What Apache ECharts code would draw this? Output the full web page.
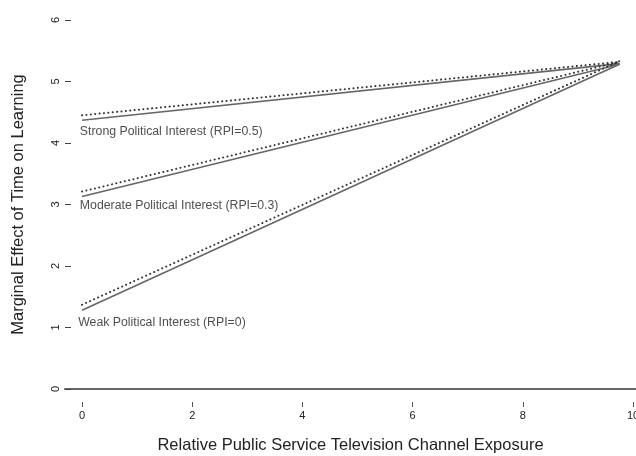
<!DOCTYPE html>
<html><head><meta charset="utf-8">
<script src="https://cdn.jsdelivr.net/npm/echarts@6/dist/echarts.min.js"></script>
<style>html,body{margin:0;padding:0;background:#fff}#c{width:636px;height:456px}</style>
</head><body><div id="c"></div>
<script>
var exposure = [0, 9.75];
var strongSolid = [4.37, 5.29];
var strongDotted = [4.45, 5.32];
var moderateSolid = [3.13, 5.28];
var moderateDotted = [3.21, 5.32];
var weakSolid = [1.28, 5.28];
var weakDotted = [1.37, 5.33];
var xTicks = [0, 2, 4, 6, 8, 10];
var yTicks = [0, 1, 2, 3, 4, 5, 6];
var labelTexts = ['Strong Political Interest (RPI=0.5)', 'Moderate Political Interest (RPI=0.3)', 'Weak Political Interest (RPI=0)'];
var labelPos = [[-0.04, 4.19], [-0.04, 2.98], [-0.07, 1.08]];

function pts(ys){ return exposure.map(function(x,i){ return [x, ys[i]]; }); }
function solid(ys){ return {type:'line', xAxisIndex:0, yAxisIndex:0, data:pts(ys), symbol:'none', silent:true,
  lineStyle:{color:'#666', width:1.6, type:'solid'}}; }
function dotted(ys){ return {type:'line', xAxisIndex:0, yAxisIndex:0, data:pts(ys), symbol:'none', silent:true,
  lineStyle:{color:'#333', width:2, type:[0.1,4.3], cap:'round'}}; }

var chart = echarts.init(document.getElementById('c'), null, {renderer:'canvas'});
chart.setOption({
  animation:false,
  textStyle:{fontFamily:'Liberation Sans, Arial, sans-serif'},
  grid:[
    {left:65, right:0, top:20, bottom:67, containLabel:false, outerBoundsMode:'none'},
    {left:82, right:3, top:20, bottom:67, containLabel:false, outerBoundsMode:'none'}
  ],
  xAxis:[{
    gridIndex:0, type:'value', min:-0.309, max:10.05, position:'bottom',
    axisLine:{show:true, onZero:false, lineStyle:{color:'#666', width:2}},
    axisTick:{show:false}, axisLabel:{show:false}, splitLine:{show:false},
    name:'Relative Public Service Television Channel Exposure', nameLocation:'middle', nameGap:48,
    nameTextStyle:{fontSize:16.5, color:'#222'}
  },{
    gridIndex:1, type:'value', min:0, max:10, interval:2, position:'bottom', offset:13,
    axisLine:{show:false, onZero:false}, splitLine:{show:false},
    axisTick:{show:true, length:5, lineStyle:{color:'#555', width:1}},
    axisLabel:{show:true, margin:8, fontSize:11, color:'#222', showMaxLabel:true, showMinLabel:true}
  }],
  yAxis:[{
    gridIndex:0, type:'value', min:0, max:6, interval:1,
    axisLine:{show:false, onZero:false}, splitLine:{show:false},
    axisTick:{show:true, inside:true, length:6, lineStyle:{color:'#444', width:1}},
    axisLabel:{rotate:90, margin:4, fontSize:11, color:'#222'},
    name:'Marginal Effect of Time on Learning', nameLocation:'middle', nameGap:38,
    nameTextStyle:{fontSize:16.5, color:'#222'}
  },{
    gridIndex:1, type:'value', min:0, max:6, show:false
  }],
  series:[
    solid(strongSolid), dotted(strongDotted),
    solid(moderateSolid), dotted(moderateDotted),
    solid(weakSolid), dotted(weakDotted),
    {type:'scatter', xAxisIndex:0, yAxisIndex:0, symbolSize:0, silent:true,
      data: labelPos.map(function(p,i){ return {value:p, name:labelTexts[i]}; }),
      label:{show:true, position:'right', distance:0, formatter:'{b}', fontSize:12.3, color:'#222'}}
  ]
});
</script></body></html>
